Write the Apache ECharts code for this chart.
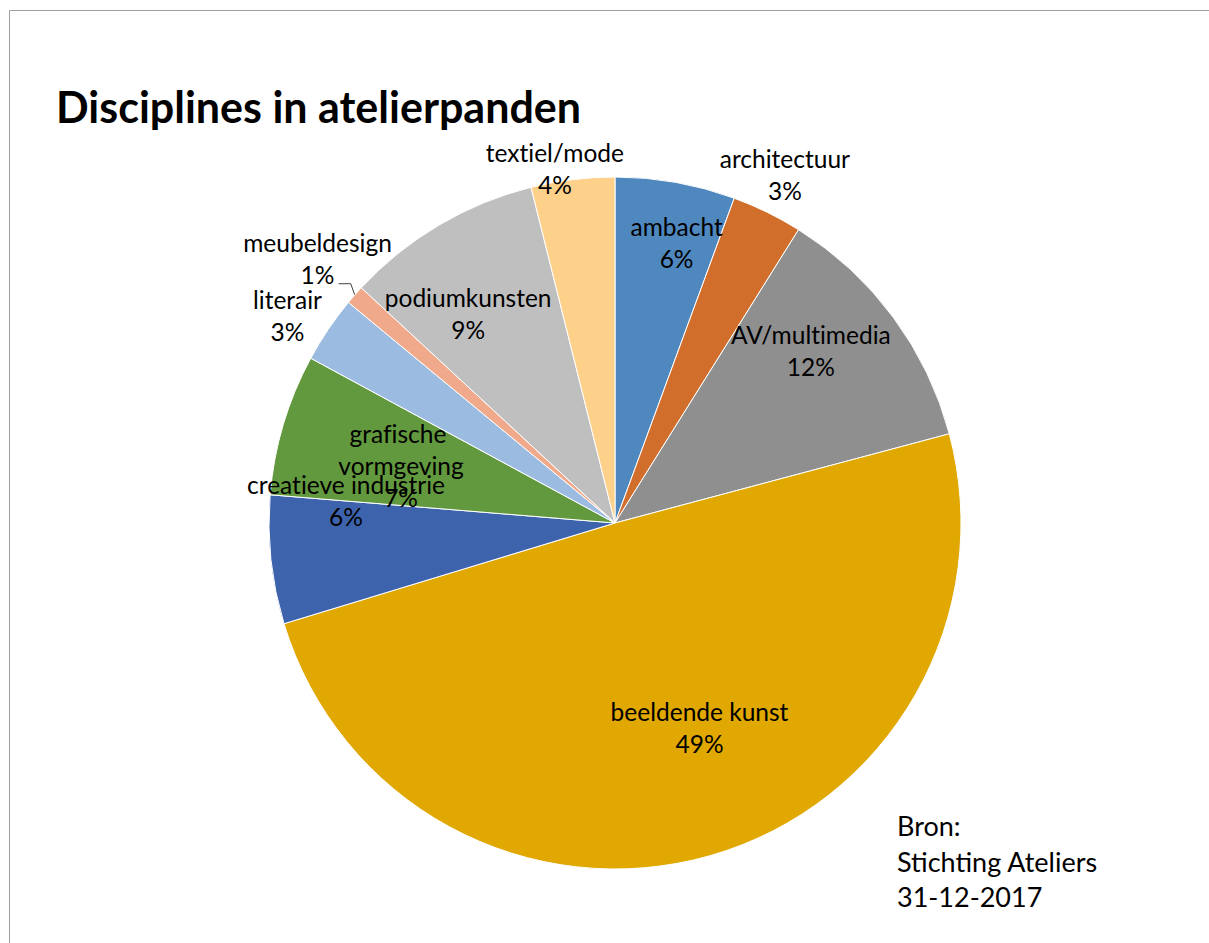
<!DOCTYPE html>
<html><head><meta charset="utf-8">
<script src="https://cdn.jsdelivr.net/npm/echarts@6/dist/echarts.min.js"></script>
<style>html,body{margin:0;padding:0;background:#fff}#c{width:1209px;height:943px}
#c text{font-variant-ligatures:none;}</style>
</head><body><div id="c"></div>
<script>
// ---- data ----
const categories = ['ambacht', 'architectuur', 'AV/multimedia', 'beeldende kunst', 'creatieve industrie',
  'grafische vormgeving', 'literair', 'meubeldesign', 'podiumkunsten', 'textiel/mode'];
const shares = [5.6, 3.3, 11.95, 49.45, 6.0, 6.6, 3.1, 0.9, 9.2, 3.9];
const titleText = 'Disciplines in atelierpanden';
const sourceLines = ['Bron:', 'Stichting Ateliers', '31-12-2017'];

// ---- style / layout ----
const colors = ['#4F88BE', '#D26E2B', '#8F8F8F', '#E0A800', '#3E63AD',
  '#62993E', '#9BBBE0', '#F0A98B', '#BFBFBF', '#FED18A'];
const CX = 615, CY = 523, R = 346;
const labelRadius = [0.83, 1.12, 0.755, 0.64, 0.78, 0.64, 1.12, 1.15, 0.74, 1.04];
const labelAngleShift = [2.3, -0.1, -5, -6.5, 10.8, -1.6, -1.7, 0.4, -4.4, -2.6];
const FONT = 'Lato, "Open Sans", sans-serif';

const total = shares.reduce((a, b) => a + b, 0);
const midAngles = [];
let acc = 0;
shares.forEach(v => { midAngles.push((acc + v / 2) / total * 360); acc += v; });

const chart = echarts.init(document.getElementById('c'), null, { renderer: 'svg' });
chart.setOption({
  animation: false,
  title: {
    text: titleText, left: 51, top: 80,
    textStyle: { fontFamily: FONT, fontWeight: 'bold', fontSize: 43, color: '#000' }
  },
  graphic: [
    { type: 'rect', silent: true, shape: { x: 9.5, y: 10.5, width: 1400, height: 1100 },
      style: { fill: 'none', stroke: '#A0A0A0', lineWidth: 1 } },
    { type: 'text', left: 897, top: 808, silent: true,
      style: { text: sourceLines.join('\n'), font: '27px ' + FONT, lineHeight: 35.5, fill: '#000' } }
  ],
  series: [{
    type: 'pie',
    center: [CX, CY], radius: R, startAngle: 90, clockwise: true,
    avoidLabelOverlap: false,
    emphasis: { scale: false },
    itemStyle: { borderColor: '#fff', borderWidth: 1 },
    label: {
      position: 'outside', color: '#000', fontFamily: FONT, fontSize: 24.5, lineHeight: 32,
      align: 'center',
      formatter: p => p.name + '\n' + Math.round(p.value / total * 100) + '%'
    },
    labelLine: { show: false, lineStyle: { color: '#404040', width: 1 } },
    data: categories.map((n, i) => ({
      name: n, value: shares[i],
      itemStyle: { color: colors[i] },
      label: n === 'grafische vormgeving' ? { width: 150, overflow: 'break' } : {},
      labelLine: { show: n === 'meubeldesign' }
    })),
    labelLayout: function (p) {
      const i = p.dataIndex;
      const a = (midAngles[i] + labelAngleShift[i]) * Math.PI / 180;
      const k = labelRadius[i];
      const x = CX + k * R * Math.sin(a), y = CY - k * R * Math.cos(a);
      const o = { x: x, y: y, align: 'center', verticalAlign: 'middle' };
      if (categories[i] === 'meubeldesign') {
        const am = midAngles[i] * Math.PI / 180;
        const ex = CX + R * Math.sin(am), ey = CY - R * Math.cos(am);
        o.labelLinePoints = [[ex, ey], [ex - 4, y + 25], [x + 21, y + 25]];
      }
      return o;
    }
  }]
});
</script>
</body></html>
